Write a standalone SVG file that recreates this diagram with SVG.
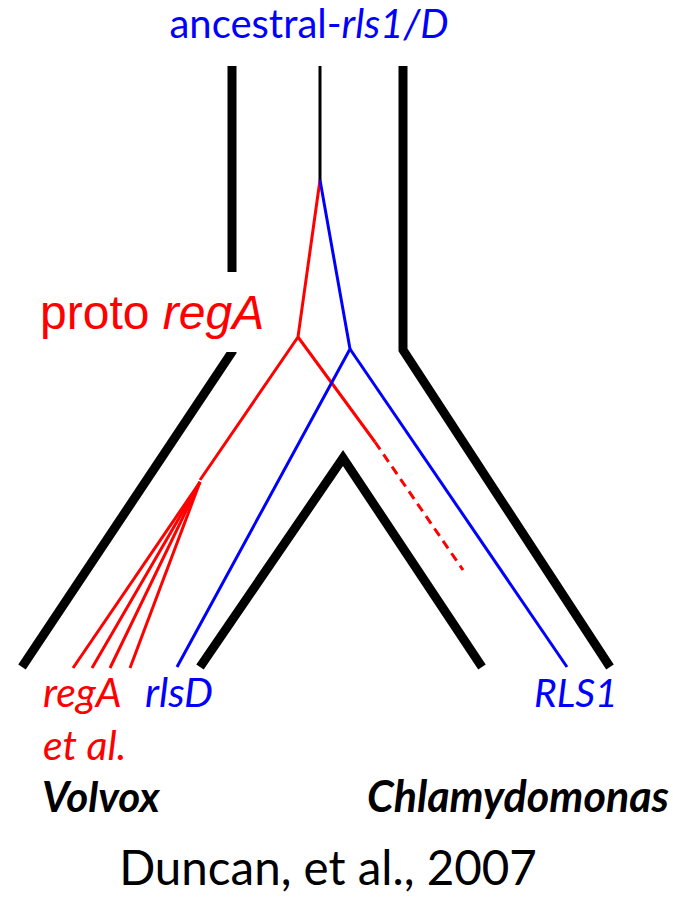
<svg xmlns="http://www.w3.org/2000/svg" width="679" height="900" viewBox="0 0 679 900">
  <style>
    .wall { fill: none; stroke: #000; stroke-width: 9; stroke-linejoin: miter; }
    .thin { fill: none; stroke: #000; stroke-width: 3; }
    .red { fill: none; stroke: #f00; stroke-width: 3; stroke-linecap: butt; }
    .blue { fill: none; stroke: #00f; stroke-width: 3; }
    .dash { stroke-dasharray: 9 6; }
    .cal { font-family: Lato, "Open Sans", sans-serif; }
    .ari { font-family: "Liberation Sans", Arial, sans-serif; }
    .it { font-style: italic; }
  </style>
  <rect width="679" height="900" fill="#fff"/>

  <!-- species tree outlines -->
  <g id="species-tree">
    <polyline class="wall" points="232,66 232,352 22,667"/>
    <polyline class="wall" points="403,66 403,350 610,667"/>
    <polyline class="wall" points="200,667 343,458 482,667"/>
  </g>

  <!-- gene tree branches -->
  <g id="connectors">
    <line class="thin" x1="320" y1="66" x2="320" y2="180"/>
    <polyline class="red" points="320,180 298,337 200,480"/>
    <line class="red" x1="298" y1="337" x2="375" y2="442"/>
    <line class="red dash" x1="375" y1="442" x2="463" y2="570"/>
    <line class="red" x1="200" y1="482" x2="73" y2="668"/>
    <line class="red" x1="200" y1="482" x2="92" y2="668"/>
    <line class="red" x1="200" y1="482" x2="110" y2="668"/>
    <line class="red" x1="200" y1="482" x2="130" y2="668"/>
    <polyline class="blue" points="320,180 350,349 177,667"/>
    <line class="blue" x1="350" y1="349" x2="567" y2="667"/>
  </g>

  <g id="title">
    <text class="cal" x="309" y="38" font-size="40" fill="#00f" text-anchor="middle">ancestral-<tspan class="it">rls1/D</tspan></text>
  </g>

  <g id="proto-regA">
    <rect x="30" y="272" width="208" height="80" fill="#fff"/>
    <text class="ari" x="40" y="329" font-size="48" fill="#f00">proto <tspan class="it">regA</tspan></text>
  </g>

  <g id="regA">
    <text class="cal it" x="43" y="707" font-size="41" fill="#f00">regA</text>
    <text class="cal it" x="43" y="760" font-size="41" fill="#f00">et al.</text>
  </g>
  <g id="rlsD">
    <text class="cal it" x="145" y="707" font-size="41" fill="#00f">rlsD</text>
  </g>
  <g id="RLS1">
    <text class="cal it" x="534" y="707" font-size="39" fill="#00f">RLS1</text>
  </g>
  <g id="Volvox">
    <text class="cal it" x="42" y="812" font-size="42" font-weight="bold" fill="#000">Volvox</text>
  </g>
  <g id="Chlamydomonas">
    <text class="cal it" x="367" y="812" font-size="43" font-weight="bold" fill="#000">Chlamydomonas</text>
  </g>
  <g id="citation">
    <text class="cal" x="328" y="885" font-size="47.5" fill="#000" text-anchor="middle">Duncan, et al., 2007</text>
  </g>
</svg>
